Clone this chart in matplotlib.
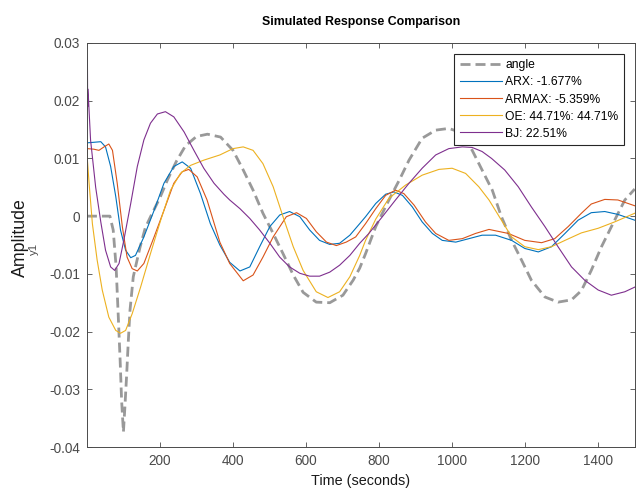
import matplotlib
matplotlib.use('Agg')
import matplotlib.pyplot as plt

plt.rcParams['font.family'] = ['Liberation Sans', 'DejaVu Sans']

angleTime = [0, 63, 72, 80, 86, 91, 95, 100, 104, 109, 113, 118, 127, 145, 160, 175, 200, 220, 245,
             270, 300, 330, 366, 400, 428, 455, 482, 510, 537, 565, 592, 628, 665, 701, 729, 747,
             763, 791, 827, 855, 882, 918, 955, 991, 1019, 1055, 1082, 1110, 1135, 1163, 1190,
             1217, 1254, 1290, 1327, 1354, 1381, 1409, 1445, 1473, 1500]
angleVal = [0, 0, -0.0024, -0.0088, -0.0175, -0.025, -0.0319, -0.0374, -0.0331, -0.0273, -0.0221,
            -0.0163, -0.0105, -0.0055, -0.002, 0.0, 0.0032, 0.0062, 0.0095, 0.0122, 0.0138, 0.0142,
            0.0137, 0.0114, 0.008, 0.0045, 0.0005, -0.003, -0.0065, -0.0102, -0.0132, -0.0149,
            -0.015, -0.0137, -0.0111, -0.009, -0.0065, -0.0018, 0.0028, 0.0062, 0.0097, 0.0135,
            0.0149, 0.0152, 0.0146, 0.0114, 0.008, 0.0045, -0.0001, -0.0042, -0.0076, -0.0111,
            -0.014, -0.0149, -0.0145, -0.0129, -0.0094, -0.0053, -0.0007, 0.0028, 0.0047]

arxTime = [0, 20, 38, 51, 65, 79, 92, 106, 120, 133, 156, 184, 211, 238, 261, 284, 311, 338, 364,
           391, 419, 446, 473, 501, 528, 555, 583, 610, 637, 665, 692, 720, 747, 763, 791, 818,
           841, 864, 891, 918, 946, 973, 1010, 1046, 1082, 1119, 1163, 1199, 1236, 1272, 1309,
           1345, 1381, 1418, 1454, 1500]
arxVal = [0.0127, 0.0128, 0.0129, 0.012, 0.0086, 0.0034, -0.0024, -0.0059, -0.0072, -0.0068,
          -0.0036, 0.001, 0.0057, 0.0086, 0.0094, 0.0083, 0.0039, -0.0013, -0.005, -0.008, -0.0095,
          -0.0088, -0.0053, -0.0018, 0.0002, 0.0008, -0.0001, -0.0024, -0.0042, -0.0049, -0.0047,
          -0.0033, -0.0013, -0.0001, 0.0022, 0.0038, 0.0042, 0.0036, 0.0016, -0.001, -0.003,
          -0.0042, -0.0045, -0.0039, -0.0033, -0.0033, -0.0042, -0.0056, -0.0062, -0.0053,
          -0.003, -0.0007, 0.0006, 0.0008, 0.0003, -0.0007]

armaxTime = [0, 1, 19, 33, 47, 60, 70, 83, 97, 110, 124, 138, 156, 184, 211, 238, 261, 279, 302,
             329, 364, 391, 428, 455, 482, 510, 546, 574, 601, 628, 656, 683, 710, 736, 763, 791,
             818, 845, 868, 896, 927, 955, 991, 1028, 1064, 1101, 1154, 1199, 1245, 1281, 1318,
             1354, 1381, 1418, 1454, 1500]
armaxVal = [0.002, 0.0117, 0.0116, 0.0114, 0.012, 0.0125, 0.0114, 0.0057, -0.0018, -0.0071,
            -0.0091, -0.0095, -0.0082, -0.0036, 0.001, 0.0057, 0.0077, 0.0081, 0.0068, 0.0028,
            -0.0045, -0.0082, -0.0112, -0.0102, -0.0071, -0.0036, -0.0001, 0.0006, -0.0004,
            -0.0027, -0.0045, -0.0051, -0.0045, -0.0036, -0.0013, 0.0013, 0.0036, 0.0045, 0.0039,
            0.0019, -0.001, -0.003, -0.0042, -0.0039, -0.003, -0.0023, -0.003, -0.0042, -0.0046,
            -0.0039, -0.0018, 0.0005, 0.0021, 0.0029, 0.0028, 0.0018]

oeTime = [0, 6, 15, 28, 42, 60, 79, 92, 106, 124, 147, 174, 202, 229, 256, 284, 320, 364, 400,
          428, 455, 482, 510, 537, 565, 592, 628, 660, 692, 720, 747, 763, 791, 827, 873, 918,
          964, 1000, 1037, 1073, 1101, 1135, 1163, 1199, 1236, 1272, 1309, 1354, 1400, 1445, 1500]
oeVal = [0.0109, 0.0057, -0.0013, -0.0076, -0.0128, -0.0175, -0.0198, -0.0203, -0.0198, -0.0169,
         -0.0123, -0.0065, -0.0007, 0.0045, 0.0074, 0.0088, 0.0097, 0.0106, 0.0117, 0.012, 0.0114,
         0.0091, 0.0051, -0.0001, -0.0053, -0.0094, -0.0131, -0.0141, -0.0131, -0.0105, -0.0068,
         -0.0042, -0.0005, 0.0031, 0.0054, 0.0071, 0.0081, 0.0083, 0.0074, 0.0051, 0.0028,
         -0.0007, -0.0036, -0.0053, -0.0058, -0.0053, -0.0042, -0.0029, -0.0021, -0.001, 0.0005]

bjTime = [0, 0.7, 1.4, 2.1, 3, 10, 24, 38, 51, 65, 76, 88, 101, 120, 138, 156, 174, 193, 215, 238,
          266, 293, 320, 348, 375, 391, 419, 446, 473, 501, 528, 555, 583, 610, 637, 665, 692,
          720, 747, 772, 809, 845, 882, 918, 955, 991, 1028, 1055, 1082, 1108, 1144, 1181, 1217,
          1254, 1290, 1327, 1363, 1400, 1436, 1473, 1500]
bjVal = [0.0276, 0.0185, 0.027, 0.019, 0.022, 0.0132, 0.005, -0.001, -0.0059, -0.0088, -0.0094,
         -0.0082, -0.0042, 0.0022, 0.0086, 0.0132, 0.0161, 0.0177, 0.0181, 0.0172, 0.0146, 0.0114,
         0.0083, 0.0057, 0.0038, 0.0028, 0.0013, -0.0004, -0.0024, -0.0047, -0.0071, -0.0088,
         -0.0099, -0.0104, -0.0104, -0.0097, -0.0085, -0.0068, -0.0047, -0.003, -0.0001, 0.0028,
         0.0057, 0.0083, 0.0106, 0.0117, 0.012, 0.0119, 0.0112, 0.01, 0.008, 0.0051, 0.0016,
         -0.0018, -0.0053, -0.0088, -0.0111, -0.0128, -0.0137, -0.0131, -0.0123]

legendLabels = ['angle', 'ARX: -1.677%', 'ARMAX: -5.359%', 'OE: 44.71%: 44.71%', 'BJ: 22.51%']
xTicks = [200, 400, 600, 800, 1000, 1200, 1400]
yTicks = [-0.04, -0.03, -0.02, -0.01, 0, 0.01, 0.02, 0.03]
yTickLabels = ['-0.04', '-0.03', '-0.02', '-0.01', '0', '0.01', '0.02', '0.03']

axisGray = '#4a4a4a'

fig = plt.figure(figsize=(6.39, 4.88), dpi=100)
ax = fig.add_axes([0.136, 0.084, 0.8573, 0.8279])

ax.plot(angleTime, angleVal, color='#999999', lw=2.0, dashes=(3.6, 1.8), label=legendLabels[0])
ax.plot(arxTime, arxVal, color='#0072BD', lw=0.8, label=legendLabels[1])
ax.plot(armaxTime, armaxVal, color='#D95319', lw=0.8, label=legendLabels[2])
ax.plot(oeTime, oeVal, color='#EDB120', lw=0.8, label=legendLabels[3])
ax.plot(bjTime, bjVal, color='#7E2F8E', lw=0.8, label=legendLabels[4])

ax.set_xlim(0, 1500)
ax.set_ylim(-0.04, 0.03)
ax.set_xticks(xTicks)
ax.set_yticks(yTicks)
ax.set_yticklabels(yTickLabels)
ax.tick_params(direction='in', length=3.6, width=0.6, top=True, right=True,
               labelsize=9.8, colors=axisGray, pad=5)
for spine in ax.spines.values():
    spine.set_color(axisGray)
    spine.set_linewidth(0.7)

ax.set_title('Simulated Response Comparison', fontsize=8.9, fontweight='bold', pad=13)
ax.set_xlabel('Time (seconds)', fontsize=10.4, color='#1a1a1a', labelpad=4)
ax.set_ylabel('y1', fontsize=8.2, color=axisGray)
ax.yaxis.set_label_coords(-0.088, 0.49)
fig.text(20 / 639, 1 - 238 / 488, 'Amplitude', rotation=90, ha='center', va='center',
         fontsize=12.8, color='#1a1a1a')

leg = ax.legend(loc='upper right', bbox_to_anchor=(0.9805, 0.9728), borderaxespad=0,
                fontsize=8.7, handlelength=3.5, handletextpad=0.3, labelspacing=0.42,
                borderpad=0.45, fancybox=False, framealpha=1, edgecolor='#262626')
leg.get_frame().set_linewidth(0.8)

fig.savefig('out.png', dpi=100)
